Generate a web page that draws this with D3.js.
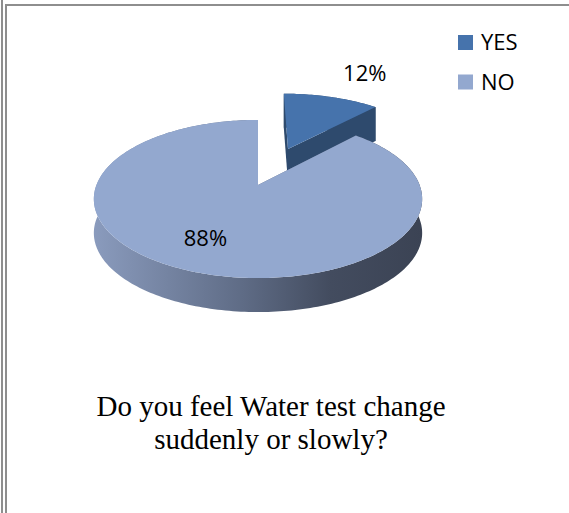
<!DOCTYPE html>
<html><head><meta charset="utf-8">
<script src="https://cdn.jsdelivr.net/npm/d3@7"></script>
<style>body{margin:0;background:#fff} svg{display:block}</style>
</head><body>
<script>
// Survey answers
const categories = ["YES", "NO"];
const values = [12, 88];
const topColors = ["#4673AC", "#93A8CF"];
const sideColors = ["#2E4A6D", "#5D6A84"];
const explodeBy = [0.55, 0];
const titleLines = ["Do you feel Water test change", "suddenly or slowly?"];

const W = 569, H = 513;
const svg = d3.select("body").append("svg").attr("width", W).attr("height", H);

// page frame
const frame = svg.append("g").attr("fill", "#8e8e8e");
frame.append("rect").attr("x", 1).attr("y", 0).attr("width", 2).attr("height", H);
frame.append("rect").attr("x", 5).attr("y", 4).attr("width", 2).attr("height", H - 4);
frame.append("rect").attr("x", 5).attr("y", 4).attr("width", W - 5).attr("height", 2);

// perspective camera for a unit disc (u right, v toward viewer); walls are extruded straight down
const cam = { cx: 258, cy: 185, f: 803, dist: 4.97, tilt: Math.asin(0.474) };
const wallPx = 34;
function project(u, v, drop) {
  const c = Math.cos(cam.tilt), s = Math.sin(cam.tilt);
  const yc = -v * s, zc = v * c, w = cam.dist - zc;
  return [cam.cx + cam.f * u / w, cam.cy - cam.f * yc / w + (drop ? wallPx : 0)];
}
const rim = (o, a, r, drop) => project(o[0] + r * Math.sin(a), o[1] - r * Math.cos(a), drop);

const pie = d3.pie().sort(null).startAngle(0).endAngle(2 * Math.PI);
const arcs = pie(values);
const line = d3.line();

function arcPts(o, a0, a1, drop) {
  const n = Math.max(2, Math.ceil((a1 - a0) / 0.02));
  return d3.range(n + 1).map(i => rim(o, a0 + (a1 - a0) * i / n, 1, drop));
}

const defs = svg.append("defs");
const grad = defs.append("linearGradient").attr("id", "sideGrad")
  .attr("gradientUnits", "userSpaceOnUse").attr("x1", 94).attr("x2", 422).attr("y1", 0).attr("y2", 0);
[["0%", "#8A9BBD"], ["45%", "#5F6C86"], ["72%", "#434C5F"], ["100%", "#3B4354"]]
  .forEach(([o, c]) => grad.append("stop").attr("offset", o).attr("stop-color", c));

const pieG = svg.append("g");
arcs.forEach((d, i) => {
  const mid = (d.startAngle + d.endAngle) / 2;
  const o = [explodeBy[i] * Math.sin(mid), -explodeBy[i] * Math.cos(mid)];
  const g = pieG.append("g");
  const sideFill = i === 1 ? "url(#sideGrad)" : sideColors[i];
  // outer wall
  const wall = arcPts(o, d.startAngle, d.endAngle, false).concat(arcPts(o, d.startAngle, d.endAngle, true).reverse());
  g.append("path").attr("d", line(wall) + "Z").attr("fill", sideFill);
  // radial cut faces
  [d.startAngle, d.endAngle].forEach(a => {
    const q = [project(o[0], o[1], false), rim(o, a, 1, false), rim(o, a, 1, true), project(o[0], o[1], true)];
    g.append("path").attr("d", line(q) + "Z").attr("fill", sideColors[i]);
  });
  // top face
  const top = [project(o[0], o[1], false)].concat(arcPts(o, d.startAngle, d.endAngle, false));
  g.append("path").attr("d", line(top) + "Z").attr("fill", topColors[i]);
});

// value labels
const total = d3.sum(values);
const fmt = v => Math.round(v / total * 100) + "%";
const labelSpots = [
  { r: 1.55, dx: 14, dy: -2 },
  { r: 0.72, dx: -4, dy: -6 }
];
arcs.forEach((d, i) => {
  const mid = (d.startAngle + d.endAngle) / 2;
  const o = [explodeBy[i] * Math.sin(mid), -explodeBy[i] * Math.cos(mid)];
  const p = rim(o, mid, labelSpots[i].r, false);
  svg.append("text").attr("x", p[0] + labelSpots[i].dx).attr("y", p[1] + labelSpots[i].dy)
    .attr("text-anchor", "middle").attr("dominant-baseline", "central")
    .attr("font-family", "'Open Sans', sans-serif").attr("font-size", 22).attr("fill", "#000")
    .text(fmt(values[i]));
});

// legend
const legend = svg.append("g").attr("transform", "translate(458,35)");
categories.forEach((c, i) => {
  const row = legend.append("g").attr("transform", `translate(0,${i * 39.5})`);
  row.append("rect").attr("width", 15).attr("height", 15).attr("fill", topColors[i]);
  row.append("text").attr("x", 23).attr("y", 15)
    .attr("font-family", "'Open Sans', sans-serif").attr("font-size", 22).attr("fill", "#000").text(c);
});

// title
svg.append("text").attr("text-anchor", "middle")
  .attr("font-family", "'Liberation Serif', 'Times New Roman', serif").attr("font-size", 29).attr("fill", "#000")
  .selectAll("tspan").data(titleLines).join("tspan")
  .attr("x", 271).attr("y", (d, i) => 416 + i * 33).text(d => d);
</script>
</body></html>
